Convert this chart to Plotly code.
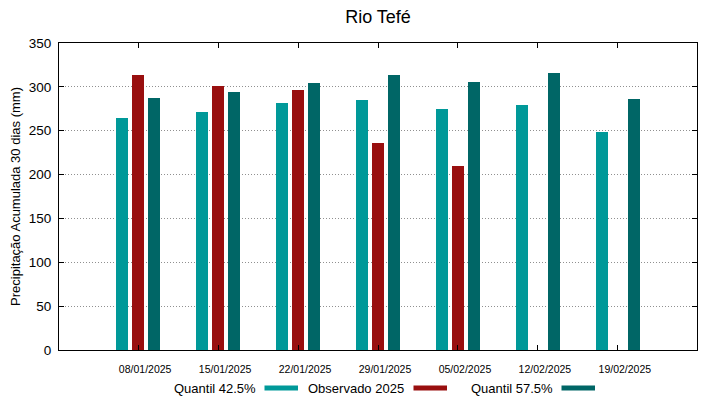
import plotly.graph_objects as go

dates = ["08/01/2025", "15/01/2025", "22/01/2025", "29/01/2025", "05/02/2025", "12/02/2025", "19/02/2025"]
q425 = [265, 271, 282, 285, 275, 279, 249]
observado = [313, 301, 296, 236, 210, None, None]
q575 = [287, 294, 304, 313, 305, 316, 286]

names = ["Quantil 42.5%", "Observado 2025", "Quantil 57.5%"]
colors = ["#009999", "#990f0f", "#006666"]
series = [q425, observado, q575]
offsets = [-0.277, -0.077, 0.123]

x_idx = list(range(len(dates)))

fig = go.Figure()
for name, col, vals, off in zip(names, colors, series, offsets):
    fig.add_trace(go.Bar(x=x_idx, y=vals, name=name, marker=dict(color=col, line=dict(width=0)),
                         width=0.155, offset=off, showlegend=False))

# page body has an 8px margin; figure is sized to fit the 719x399 window
OFF = 8
FW, FH = 711, 391
pl, pr, pt, pb = 59, 697, 43, 350  # plot area in page pixels

font = "Liberation Sans, Arial, sans-serif"
fig.update_layout(
    width=FW, height=FH,
    margin=dict(l=pl - OFF, r=FW + OFF - pr, t=pt - OFF, b=FH + OFF - pb, autoexpand=False),
    plot_bgcolor="white", paper_bgcolor="white",
    font=dict(family=font, color="black", size=13),
    title=dict(text="Rio Tefé", x=0.5, xanchor="center", xref="paper",
               y=1 - (17 - OFF) / FH, yref="container", yanchor="middle",
               font=dict(size=18, family=font)),
    bargap=0,
)
fig.update_xaxes(
    range=[-0.99, 6.99], tickmode="array", tickvals=x_idx, ticktext=dates,
    tickfont=dict(size=10.5), ticks="inside", ticklen=5, tickcolor="black",
    ticklabelshift=7, ticklabelstandoff=9,
    showline=True, linecolor="black", linewidth=1, mirror="ticks", showgrid=False, zeroline=False,
)
fig.update_yaxes(
    range=[0, 350], tickvals=[0, 50, 100, 150, 200, 250, 300, 350],
    ticks="inside", ticklen=5, tickcolor="black", tickfont=dict(size=13.5),
    ticklabelstandoff=4,
    showline=True, linecolor="black", linewidth=1, mirror="ticks",
    showgrid=True, gridcolor="#909090", griddash="1px,2px", gridwidth=1, zeroline=False,
    title=dict(text="Precipitação Acumulada 30 dias (mm)", font=dict(size=13), standoff=6),
)

def px_to_paper_x(px):
    return (px - pl) / (pr - pl)
def px_to_paper_y(py):
    return (pb - py) / (pb - pt)

# Custom legend (text on left, swatch on right)
leg_y = 388
legend_items = [(names[0], colors[0], 257.5, 264.5, 298),
                (names[1], colors[1], 406, 413.5, 447),
                (names[2], colors[2], 555, 561.5, 595)]
for text, col, tx, s0, s1 in legend_items:
    fig.add_annotation(text=text, xref="paper", yref="paper",
                       x=px_to_paper_x(tx), y=px_to_paper_y(leg_y),
                       xanchor="right", yanchor="middle", showarrow=False,
                       font=dict(size=13, family=font))
    fig.add_shape(type="line", xref="paper", yref="paper",
                  x0=px_to_paper_x(s0), x1=px_to_paper_x(s1),
                  y0=px_to_paper_y(leg_y), y1=px_to_paper_y(leg_y),
                  line=dict(color=col, width=5))

fig.write_html("out.html")
